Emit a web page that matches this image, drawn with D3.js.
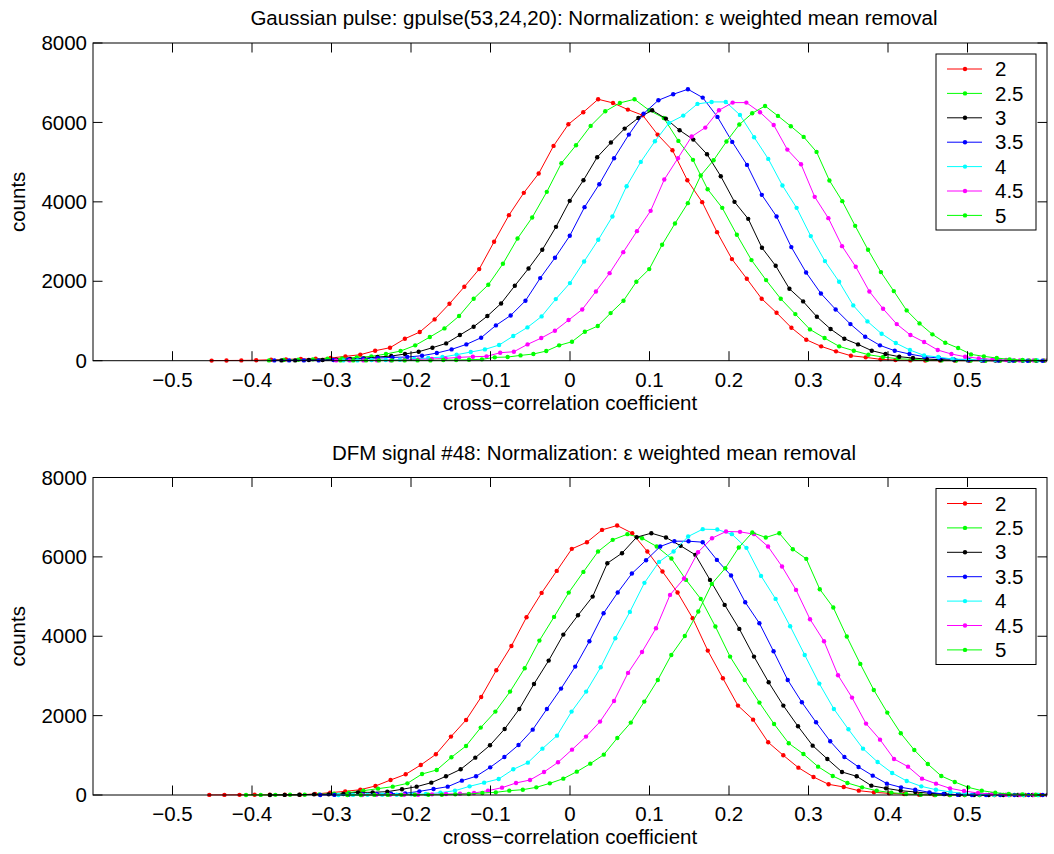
<!DOCTYPE html>
<html>
<head>
<meta charset="utf-8">
<script src="https://cdn.jsdelivr.net/npm/d3@7"></script>
<style>
    body { margin: 0; background: #fff; }
    text { font-family: "Liberation Sans", Arial, Helvetica, sans-serif; fill: #000; }
</style>
</head>
<body>
<svg id="chart" width="1054" height="854"></svg>
<script>
// legend entries (shared by both panels)
const seriesNames = ["2", "2.5", "3", "3.5", "4", "4.5", "5"];

// axis ticks
const xTicks = [-0.5, -0.4, -0.3, -0.2, -0.1, 0, 0.1, 0.2, 0.3, 0.4, 0.5];
const yTicks = [0, 2000, 4000, 6000, 8000];

// top panel: gaussian pulse, first bin centre and bin width per series
const gaussStart = [-0.4508, -0.3786, -0.3630, -0.3719, -0.2852, -0.2942, -0.2889];
const gaussStep = [0.0187, 0.01839, 0.01727, 0.01858, 0.01782, 0.0172, 0.01619];

const gauss2 = [3,5,8,12,25,34,42,50,67,109,151,252,327,553,721,1040,1434,1862,2306,2994,3665,4227,4713,5409,5954,6256,6583,6491,6323,6180,5694,5300,4545,3992,3237,2558,2063,1560,1208,830,528,361,235,126,84,34,17,8,4,2,1,0,0,0,0,0,0,0];
const gauss25 = [8,17,25,34,50,59,84,109,168,243,386,595,813,1124,1560,1912,2440,3078,3606,4252,4973,5426,5912,6281,6491,6583,6306,6113,5535,5057,4319,3849,3170,2533,2029,1560,1174,788,570,361,252,151,92,50,34,17,8,4,2,0,0,0,0,0,0];
const gauss3 = [8,8,17,17,25,42,59,92,117,168,226,327,436,646,855,1124,1442,1887,2323,2792,3371,4025,4545,5124,5493,5845,6113,6306,6096,5803,5568,5199,4646,4000,3572,2843,2390,1811,1493,1107,797,553,411,252,168,101,67,42,25,17,8,4,2,0,0,0,0,0];
const gauss35 = [8,8,8,8,17,34,50,67,84,92,126,193,285,411,579,889,1140,1509,2080,2591,3145,3866,4445,5099,5694,6222,6558,6709,6835,6625,6139,5510,4931,4176,3631,2860,2222,1694,1291,922,604,386,252,168,101,67,34,17,8,4,2,0,0,0];
const gauss4 = [8,8,17,17,25,42,67,92,151,218,285,394,621,839,1115,1551,1954,2499,3044,3631,4394,5006,5526,5988,6172,6466,6516,6516,6189,5627,5082,4411,3849,3137,2508,1988,1392,990,679,444,268,134,92,42,34,17,17,8,8,8,4];
const gauss45 = [8,8,8,8,8,17,34,42,59,84,101,109,201,226,411,570,755,1023,1291,1744,2205,2734,3262,3774,4562,5099,5644,5870,6306,6499,6499,6256,5937,5316,4948,4126,3589,2885,2365,1744,1308,922,646,470,268,168,101,59,34,17,8,8,8];
const gauss5 = [8,8,8,8,8,8,8,8,17,17,25,34,84,92,134,168,243,386,478,730,872,1199,1510,1988,2306,2918,3455,3967,4663,5048,5518,5946,6231,6415,6164,5904,5635,5258,4537,4017,3396,2793,2231,1753,1266,939,663,453,319,159,109,67,34,17,8,8];

// bottom panel: DFM signal #48
const dfmStart = [-0.4537, -0.4075, -0.3774, -0.3142, -0.2913, -0.2616, -0.2801];
const dfmStep = [0.019, 0.01845, 0.01845, 0.01782, 0.01833, 0.01761, 0.01698];

const dfm2 = [2,3,4,5,6,7,8,25,59,92,134,227,378,521,756,1025,1471,1891,2470,3143,3756,4479,5092,5647,6202,6370,6680,6790,6597,6135,5630,5101,4454,3639,2941,2252,1899,1328,1000,689,454,269,202,109,67,42,25,8,0,0,0,0,0,0,0,0,0];
const dfm25 = [0,2,4,6,8,17,34,59,109,160,210,294,529,630,950,1236,1698,2101,2605,3193,3891,4487,5100,5622,6135,6429,6572,6471,6261,5958,5420,4941,4244,3487,2899,2328,1790,1303,1034,714,479,303,193,109,59,25,8,0,0,0,0,0,0,0,0,0];
const dfm3 = [0,2,5,17,17,25,67,67,84,143,210,311,471,647,941,1252,1664,2168,2798,3386,4042,4529,4999,5840,6093,6496,6597,6488,6278,6051,5420,4790,4185,3487,2840,2252,1731,1244,908,580,471,235,168,109,76,42,25,8,0,0,0,0,0,0];
const dfm35 = [0,3,8,17,25,34,42,92,151,210,361,471,697,958,1261,1647,2168,2681,3235,3874,4580,5101,5580,5916,6261,6395,6395,6370,5924,5529,4857,4328,3622,2899,2336,1832,1353,958,706,487,286,193,134,67,25,8,0,0,0,0,0,0,0];
const dfm4 = [0,2,4,8,8,17,25,59,109,218,311,403,647,815,1168,1496,2101,2605,3218,3949,4614,5345,5874,6135,6513,6698,6689,6572,6227,5521,4941,4252,3529,2807,2168,1655,1168,832,555,353,218,134,76,34,17,8,0,0,0,0];
const dfm45 = [0,2,4,8,8,17,25,34,50,109,185,303,378,580,824,1143,1471,1849,2370,3076,3605,4202,5042,5454,6118,6471,6639,6631,6572,6261,5757,5168,4429,3874,3017,2454,1799,1395,908,714,412,286,168,101,50,25,8,0,0,0];
const dfm5 = [0,1,2,3,4,6,8,8,17,25,50,67,109,134,193,294,412,588,790,1017,1437,1824,2353,2899,3529,4008,4622,5319,5714,6235,6614,6488,6597,6193,5950,5185,4723,3992,3303,2647,2076,1555,1134,781,479,328,193,109,59,25,17,8,0];

const gaussCounts = [gauss2, gauss25, gauss3, gauss35, gauss4, gauss45, gauss5];
const dfmCounts = [dfm2, dfm25, dfm3, dfm35, dfm4, dfm45, dfm5];

// matlab default line colours r g k b c m g
const colors = ["#ff0000", "#00ff00", "#000000", "#0000ff", "#00ffff", "#ff00ff", "#00ff00"];

const svg = d3.select("#chart");
const left = 93, right = 1047;
const fontSize = 20.5;

const x = d3.scaleLinear().domain([-0.6, 0.6]).range([left, right]);

function fmtX(d) {
    let s = d3.format(".1f")(Math.abs(d));
    if (d === 0) return "0";
    return (d < 0 ? "\u2212" : "") + s;
}

function drawPanel(id, top, bottom, title, starts, steps, counts) {
    let g = svg.append("g").attr("id", id);
    let y = d3.scaleLinear().domain([0, 8000]).range([bottom, top]);

    g.append("clipPath").attr("id", id + "-clip")
        .append("rect")
        .attr("x", left).attr("y", top - 4)
        .attr("width", right - left).attr("height", bottom - top + 8);

    // data
    let dataG = g.append("g").attr("clip-path", "url(#" + id + "-clip)");
    let line = d3.line()
        .x(d => x(d[0]))
        .y(d => y(d[1]));

    for (let s = 0; s < counts.length; s++) {
        let pts = counts[s].map((c, i) => [starts[s] + i * steps[s], c]);
        dataG.append("path")
            .attr("d", line(pts))
            .attr("fill", "none")
            .attr("stroke", colors[s])
            .attr("stroke-width", 1);
        dataG.selectAll("circle.s" + s)
            .data(pts)
            .enter()
            .append("circle")
            .attr("class", "s" + s)
            .attr("cx", d => x(d[0]))
            .attr("cy", d => y(d[1]))
            .attr("r", 2.2)
            .attr("fill", colors[s]);
    }

    // box
    g.append("rect")
        .attr("x", left).attr("y", top)
        .attr("width", right - left).attr("height", bottom - top)
        .attr("fill", "none").attr("stroke", "#000").attr("stroke-width", 1);

    // ticks (inward, on all four sides)
    let tickLen = 9.5;
    g.selectAll("line.xt")
        .data(xTicks)
        .enter()
        .append("line")
        .attr("x1", d => x(d)).attr("x2", d => x(d))
        .attr("y1", bottom).attr("y2", bottom - tickLen)
        .attr("stroke", "#000");
    g.selectAll("line.xt2")
        .data(xTicks)
        .enter()
        .append("line")
        .attr("x1", d => x(d)).attr("x2", d => x(d))
        .attr("y1", top).attr("y2", top + tickLen)
        .attr("stroke", "#000");
    g.selectAll("line.yt")
        .data(yTicks)
        .enter()
        .append("line")
        .attr("x1", left).attr("x2", left + tickLen)
        .attr("y1", d => y(d)).attr("y2", d => y(d))
        .attr("stroke", "#000");
    g.selectAll("line.yt2")
        .data(yTicks)
        .enter()
        .append("line")
        .attr("x1", right).attr("x2", right - tickLen)
        .attr("y1", d => y(d)).attr("y2", d => y(d))
        .attr("stroke", "#000");

    // tick labels
    g.selectAll("text.xl")
        .data(xTicks)
        .enter()
        .append("text")
        .attr("x", d => x(d))
        .attr("y", bottom + 26)
        .attr("text-anchor", "middle")
        .style("font-size", fontSize + "px")
        .text(fmtX);
    g.selectAll("text.yl")
        .data(yTicks)
        .enter()
        .append("text")
        .attr("x", left - 6)
        .attr("y", d => y(d))
        .attr("dy", "0.35em")
        .attr("text-anchor", "end")
        .style("font-size", fontSize + "px")
        .text(d => d);

    // axis labels + title
    g.append("text")
        .attr("x", (left + right) / 2)
        .attr("y", bottom + 49)
        .attr("text-anchor", "middle")
        .style("font-size", fontSize + "px")
        .text("cross\u2212correlation coefficient");
    g.append("text")
        .attr("transform", "translate(25," + ((top + bottom) / 2) + ") rotate(-90)")
        .attr("text-anchor", "middle")
        .style("font-size", fontSize + "px")
        .text("counts");
    g.append("text")
        .attr("x", 594)
        .attr("y", top - 18)
        .attr("text-anchor", "middle")
        .style("font-size", fontSize + "px")
        .text(title);

    // legend
    let lg = g.append("g").attr("transform", "translate(936," + (top + 11) + ")");
    lg.append("rect")
        .attr("width", 100).attr("height", 176)
        .attr("fill", "#fff").attr("stroke", "#000");
    let rows = lg.selectAll("g.row")
        .data(seriesNames)
        .enter()
        .append("g")
        .attr("transform", (d, i) => "translate(0," + (15 + i * 24.4) + ")");
    rows.append("line")
        .attr("x1", 11).attr("x2", 46)
        .attr("stroke", (d, i) => colors[i]);
    rows.append("circle")
        .attr("cx", 29).attr("r", 2.2)
        .attr("fill", (d, i) => colors[i]);
    rows.append("text")
        .attr("x", 59).attr("dy", "0.35em")
        .style("font-size", fontSize + "px")
        .text(d => d);
}

drawPanel("top", 43, 360.7, "Gaussian pulse: gpulse(53,24,20): Normalization: \u03b5 weighted mean removal",
    gaussStart, gaussStep, gaussCounts);
drawPanel("bottom", 477.5, 795, "DFM signal #48: Normalization: \u03b5 weighted mean removal",
    dfmStart, dfmStep, dfmCounts);
</script>
</body>
</html>
